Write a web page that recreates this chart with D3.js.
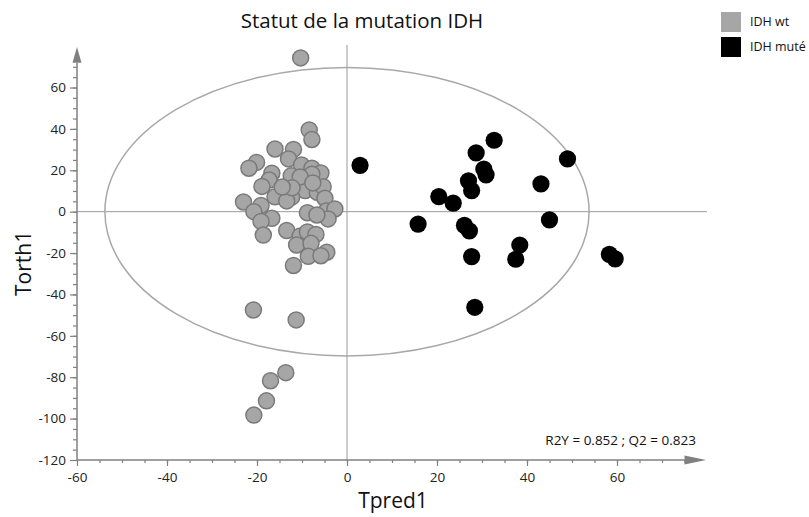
<!DOCTYPE html>
<html><head><meta charset="utf-8">
<script src="https://cdn.jsdelivr.net/npm/d3@7"></script>
<style>body{margin:0;background:#fff;} text{font-family:"Segoe UI","Open Sans","Noto Sans",sans-serif;}</style>
</head><body>
<svg id="c" width="809" height="517"></svg>
<script>
const title = "Statut de la mutation IDH";
const xLabel = "Tpred1";
const yLabel = "Torth1";
const annotation = "R2Y = 0.852 ; Q2 = 0.823";
const seriesNames = ["IDH wt", "IDH muté"];
const seriesColors = ["#a6a6a6", "#000000"];
const xTicks = [-60, -40, -20, 0, 20, 40, 60];
const yTicks = [-120, -100, -80, -60, -40, -20, 0, 20, 40, 60];
const ellipseRadii = [53.8, 69.7];

// IDH wt (grey) scores
const wtX = [-10.3,-8.4,-7.8,-16.0,-11.9,-13.0,-20.1,-21.8,-10.1,-7.8,-5.8,-16.7,-12.4,-7.8,-17.3,-18.9,-9.3,-6.6,-5.3,-16.0,-12.3,-23.0,-19.1,-13.4,-4.9,-20.7,-8.8,-4.6,-2.7,-16.7,-19.1,-4.2,-6.7,-18.6,-13.4,-10.4,-8.8,-6.9,-11.2,-8.0,-8.6,-4.5,-5.8,-11.9,-20.8,-11.3,-13.6,-17.0,-17.9,-20.7,-10.4,-7.6,-12.2,-14.4];
const wtY = [74.3,39.5,34.9,30.3,30.1,25.5,23.8,21.0,22.6,21.0,18.7,18.6,17.3,18.1,15.3,12.2,10.2,9.3,12.1,7.2,7.0,4.7,3.0,5.2,6.5,0.0,-0.5,0.3,1.3,-3.2,-4.7,-3.5,-1.6,-11.3,-9.1,-11.7,-9.8,-11.0,-16.1,-15.3,-21.6,-19.6,-21.3,-26.0,-47.5,-52.3,-77.8,-81.7,-91.4,-98.3,16.8,13.9,11.5,11.9];
// IDH muté (black) scores
const mutX = [2.9,32.7,28.7,49.0,30.4,30.9,27.0,27.7,43.1,20.4,23.6,15.8,45.0,26.1,27.2,38.4,37.5,27.7,58.3,59.6,28.4];
const mutY = [22.4,34.5,28.4,25.5,20.6,17.8,14.9,10.2,13.4,7.3,4.1,-6.0,-4.0,-6.6,-9.3,-16.1,-23.0,-21.7,-20.6,-22.8,-46.2];

const svg = d3.select("#c");
const x = d3.scaleLinear().domain([-60, 60]).range([77, 617]);
const y = d3.scaleLinear().domain([-120, 60]).range([460, 87.5]);
const axisCol = "#808080";
const fmt = d => String(d);

// zero lines
svg.append("line").attr("x1", x(-60)).attr("x2", x(80)).attr("y1", y(0)).attr("y2", y(0))
  .attr("stroke", "#999").attr("stroke-width", 1);
svg.append("line").attr("x1", x(0)).attr("x2", x(0)).attr("y1", y(-120)).attr("y2", y(80.5))
  .attr("stroke", "#999").attr("stroke-width", 1);

// ellipse
svg.append("ellipse").attr("cx", x(0)).attr("cy", y(0))
  .attr("rx", x(ellipseRadii[0]) - x(0)).attr("ry", y(0) - y(ellipseRadii[1]))
  .attr("fill", "none").attr("stroke", "#a8a8a8").attr("stroke-width", 1.5);

// axes
const gx = svg.append("g").attr("transform", `translate(0,${y(-120)})`);
gx.call(d3.axisBottom(x).tickValues(d3.range(-55, 80, 5)).tickSize(3).tickFormat(""));
gx.select(".domain").remove();
const gx2 = svg.append("g").attr("transform", `translate(0,${y(-120)})`);
gx2.call(d3.axisBottom(x).tickValues(xTicks).tickSize(6).tickPadding(6).tickFormat(fmt));
gx2.select(".domain").remove();
svg.append("line").attr("x1", x(-60)).attr("x2", x(75.5)).attr("y1", y(-120)).attr("y2", y(-120)).attr("stroke", axisCol).attr("stroke-width", 1.5);
svg.append("path").attr("d", `M${x(75)},${y(-120)-4.5}L${x(79.8)},${y(-120)}L${x(75)},${y(-120)+4.5}Z`).attr("fill", axisCol);

const gy = svg.append("g").attr("transform", `translate(${x(-60)},0)`);
gy.call(d3.axisLeft(y).tickValues(d3.range(-115, 75, 5)).tickSize(4).tickFormat(""));
gy.select(".domain").remove();
const gy2 = svg.append("g").attr("transform", `translate(${x(-60)},0)`);
gy2.call(d3.axisLeft(y).tickValues(yTicks).tickSize(7).tickPadding(4).tickFormat(fmt));
gy2.select(".domain").remove();
svg.append("line").attr("x1", x(-60)).attr("x2", x(-60)).attr("y1", y(-120)).attr("y2", y(72)).attr("stroke", axisCol).attr("stroke-width", 1.5);
svg.append("path").attr("d", `M${x(-60)-4.5},${y(72)}L${x(-60)},${y(79.6)}L${x(-60)+4.5},${y(72)}Z`).attr("fill", axisCol);

svg.selectAll(".tick line").attr("stroke", axisCol).attr("stroke-width", 1.2);
svg.selectAll(".tick text").attr("fill", "#222").attr("font-size", 13.5)
  .attr("font-family", "'Segoe UI','Open Sans','Noto Sans',sans-serif");

// points
const wt = wtX.map((v, i) => ({x: v, y: wtY[i]}));
const mut = mutX.map((v, i) => ({x: v, y: mutY[i]}));
svg.append("g").selectAll("circle").data(wt).join("circle")
  .attr("cx", d => x(d.x)).attr("cy", d => y(d.y)).attr("r", 8)
  .attr("fill", seriesColors[0]).attr("stroke", "#7a7a7a").attr("stroke-width", 1.5);
svg.append("g").selectAll("circle").data(mut).join("circle")
  .attr("cx", d => x(d.x)).attr("cy", d => y(d.y)).attr("r", 8.6)
  .attr("fill", seriesColors[1]);

// texts
svg.append("text").attr("x", 362).attr("y", 28).attr("text-anchor", "middle")
  .attr("font-size", 20.5).attr("fill", "#111").text(title);
svg.append("text").attr("x", x(0) + 46).attr("y", 508).attr("text-anchor", "middle")
  .attr("font-size", 21).attr("fill", "#111").text(xLabel);
svg.append("text").attr("transform", `translate(31,${y(-25)}) rotate(-90)`).attr("text-anchor", "middle")
  .attr("font-size", 21).attr("fill", "#111").text(yLabel);
svg.append("text").attr("x", 696).attr("y", 445).attr("text-anchor", "end")
  .attr("font-size", 13.5).attr("fill", "#111").text(annotation);

// legend
const leg = svg.append("g").selectAll("g").data(seriesNames).join("g")
  .attr("transform", (d, i) => `translate(721,${12 + i * 25})`);
leg.append("rect").attr("width", 20).attr("height", 20).attr("fill", (d, i) => seriesColors[i]);
leg.append("text").attr("x", 29).attr("y", 14).attr("font-size", 12.5).attr("fill", "#111").text(d => d);
</script>
</body></html>
